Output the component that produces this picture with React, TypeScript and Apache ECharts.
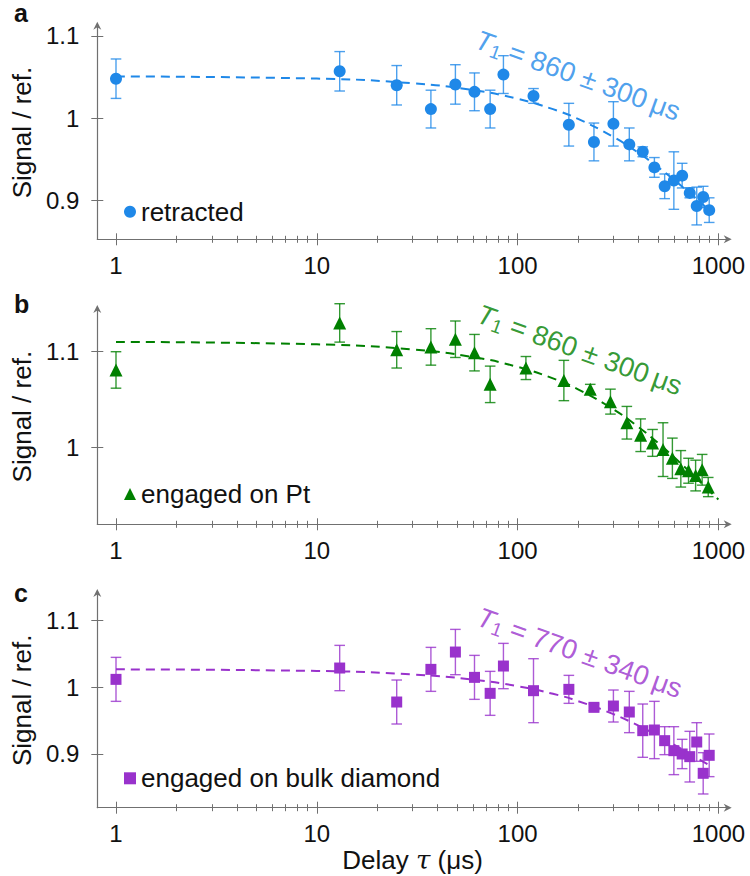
import React, { useEffect, useRef } from "react";
import * as echarts from "echarts";

// ---------------- data ----------------
const tauA = [1, 13, 25, 37, 49, 61, 73, 85, 120, 180, 240, 300, 360, 420, 480, 540, 600, 660, 720, 780, 840, 900];
const signalA = [1.048, 1.057, 1.040, 1.011, 1.041, 1.032, 1.011, 1.053, 1.027, 0.992, 0.971, 0.993, 0.968, 0.959, 0.940, 0.917, 0.924, 0.930, 0.909, 0.893, 0.904, 0.888];
const errorA = [0.024, 0.024, 0.024, 0.023, 0.024, 0.023, 0.023, 0.023, 0.009, 0.026, 0.023, 0.027, 0.020, 0.006, 0.012, 0.015, 0.035, 0.015, 0.006, 0.023, 0.013, 0.015];

const tauB = [1, 13, 25, 37, 49, 61, 73, 110, 170, 230, 290, 350, 410, 470, 530, 590, 650, 710, 770, 830, 890];
const signalB = [1.081, 1.130, 1.102, 1.105, 1.113, 1.099, 1.066, 1.083, 1.070, 1.061, 1.048, 1.026, 1.013, 1.005, 0.998, 0.989, 0.978, 0.976, 0.971, 0.977, 0.959];
const errorB = [0.019, 0.020, 0.019, 0.019, 0.019, 0.019, 0.019, 0.012, 0.021, 0.005, 0.013, 0.017, 0.017, 0.014, 0.028, 0.021, 0.019, 0.013, 0.016, 0.016, 0.010];

const tauC = [1, 13, 25, 37, 49, 61, 73, 85, 120, 180, 240, 300, 360, 420, 480, 540, 600, 660, 720, 780, 840, 900];
const signalC = [1.012, 1.029, 0.978, 1.027, 1.053, 1.015, 0.991, 1.032, 0.995, 0.997, 0.970, 0.972, 0.963, 0.935, 0.936, 0.920, 0.905, 0.900, 0.896, 0.918, 0.871, 0.898];
const errorC = [0.033, 0.034, 0.033, 0.033, 0.034, 0.033, 0.033, 0.034, 0.048, 0.021, 0.005, 0.024, 0.031, 0.040, 0.043, 0.021, 0.036, 0.022, 0.038, 0.029, 0.031, 0.032];

// dashed fit curves
const fitTauA = [1, 10, 30, 60, 100, 150, 200, 300, 400, 500, 600, 700, 800, 930];
const fitA = [1.0507, 1.0481, 1.0424, 1.0341, 1.0235, 1.0109, 0.999, 0.9771, 0.9577, 0.9404, 0.925, 0.9113, 0.8991, 0.8853];
const fitTauB = [1, 10, 30, 60, 100, 150, 200, 300, 400, 500, 600, 700, 800, 900, 1000];
const fitB = [1.1102, 1.1077, 1.1023, 1.0944, 1.0842, 1.0722, 1.0608, 1.04, 1.0215, 1.005, 0.9903, 0.9772, 0.9656, 0.9552, 0.946];
const fitTauC = [1, 10, 30, 60, 100, 150, 200, 300, 400, 500, 600, 700, 800, 930];
const fitC = [1.027, 1.0246, 1.0193, 1.0116, 1.0018, 0.9903, 0.9794, 0.9598, 0.9425, 0.9274, 0.9141, 0.9024, 0.8921, 0.8806];

const xMajorTicks = [1, 10, 100, 1000];
const xMinorTicks = [2, 3, 4, 5, 6, 7, 8, 9, 20, 30, 40, 50, 60, 70, 80, 90, 200, 300, 400, 500, 600, 700, 800, 900];
const yTicksA = [0.9, 1, 1.1];
const yTicksB = [1, 1.1];
const yTicksC = [0.9, 1, 1.1];

const seriesNames = ["retracted", "engaged on Pt", "engaged on bulk diamond"];
const panelLetters = ["a", "b", "c"];
const t1Values = ["860", "860", "770"];
const t1Errors = ["300", "300", "340"];
const t1Anchor = [[200, 1.052], [204, 1.102], [204, 1.052]];
const yRanges = [[0.8525, 1.1125], [0.9202, 1.1445], [0.8194, 1.1416]];

// ---------------- layout / style ----------------
const FONT = '"Liberation Sans", Arial, Helvetica, sans-serif';
const TEXT = "#111111";
const AXIS = "#707070";
const ARROW = "path://M5,0 L10,10 L5,7 L0,10 Z";
const X_LEFT = 97.3;
const X_RIGHT = 727.7;
const PX_AT_1 = 116;
const PX_PER_DECADE = 200.8;
const X_MIN = (X_LEFT - PX_AT_1) / PX_PER_DECADE;
const X_MAX = (X_RIGHT - PX_AT_1) / PX_PER_DECADE;
const GRID_BOX = [
  { top: 25.7, bottom: 239.3 },
  { top: 309, bottom: 524.3 },
  { top: 593, bottom: 807.7 },
];
const LEGEND_TOP = [198.7, 481, 765.3];
const TITLE_TOP = [0, 291, 580];

const panels = [
  { tau: tauA, sig: signalA, err: errorA, fitTau: fitTauA, fit: fitA, yTicks: yTicksA, color: "#1f88e8", symbol: "circle", size: 12, icon: "circle" },
  { tau: tauB, sig: signalB, err: errorB, fitTau: fitTauB, fit: fitB, yTicks: yTicksB, color: "#008000", symbol: "triangle", size: 13, icon: "triangle" },
  { tau: tauC, sig: signalC, err: errorC, fitTau: fitTauC, fit: fitC, yTicks: yTicksC, color: "#9932cc", symbol: "rect", size: 11, icon: "rect" },
];

function buildOption() {
  const option: any = {
    animation: false,
    backgroundColor: "#ffffff",
    grid: [],
    xAxis: [],
    yAxis: [],
    series: [],
    legend: [],
    title: [],
  };
  const majors = xMajorTicks.map((t) => Math.log10(t));
  const minors = xMinorTicks.map((t) => Math.log10(t));

  panels.forEach((p, i) => {
    const g = GRID_BOX[i];
    option.grid.push({
      left: X_LEFT,
      top: g.top,
      width: X_RIGHT - X_LEFT,
      height: g.bottom - g.top,
      containLabel: false,
      outerBoundsMode: "none",
    });

    const xBase = {
      type: "value",
      gridIndex: i,
      position: "bottom",
      offset: 0,
      min: X_MIN,
      max: X_MAX,
      splitLine: { show: false },
      axisLabel: { show: false },
      axisLine: { show: false, onZero: false },
    };
    const tickStyle = { color: AXIS, width: 1 };
    option.xAxis.push({
      ...xBase,
      axisLine: {
        show: true,
        onZero: false,
        symbol: ["none", ARROW],
        symbolSize: [8, 9],
        lineStyle: { color: AXIS, width: 1.2 },
      },
      axisTick: { show: true, inside: false, length: 6, customValues: majors, lineStyle: tickStyle },
      axisLabel: {
        show: true,
        customValues: majors,
        formatter: (v: number) => String(Math.round(Math.pow(10, v))),
        fontSize: 24,
        color: TEXT,
        fontFamily: FONT,
        margin: 14,
      },
      name: i === 2 ? "{n|Delay }{t|τ}{n| (μs)}" : "",
      nameLocation: "middle",
      nameGap: 37,
      nameTextStyle: {
        rich: {
          n: { fontSize: 26, color: TEXT, fontFamily: FONT },
          t: { fontSize: 26, color: TEXT, fontFamily: '"DejaVu Serif", serif', fontStyle: "italic" },
        },
      },
    });
    option.xAxis.push({ ...xBase, axisTick: { show: true, inside: true, length: 6, customValues: majors, lineStyle: tickStyle } });
    option.xAxis.push({ ...xBase, axisTick: { show: true, inside: false, length: 3.5, customValues: minors, lineStyle: tickStyle } });
    option.xAxis.push({ ...xBase, axisTick: { show: true, inside: true, length: 3.5, customValues: minors, lineStyle: tickStyle } });

    const yBase = {
      type: "value",
      gridIndex: i,
      position: "left",
      offset: 0,
      min: yRanges[i][0],
      max: yRanges[i][1],
      splitLine: { show: false },
    };
    option.yAxis.push({
      ...yBase,
      axisLine: {
        show: true,
        onZero: false,
        symbol: ["none", ARROW],
        symbolSize: [8, 9],
        lineStyle: { color: AXIS, width: 1.2 },
      },
      axisTick: { show: true, inside: false, length: 6, customValues: p.yTicks, lineStyle: tickStyle },
      axisLabel: {
        show: true,
        customValues: p.yTicks,
        formatter: (v: number) => String(v),
        fontSize: 24,
        color: TEXT,
        fontFamily: FONT,
        margin: 18,
      },
      name: "Signal / ref.",
      nameLocation: "middle",
      nameGap: 62,
      nameTextStyle: { fontSize: 26, color: TEXT, fontFamily: FONT },
    });
    option.yAxis.push({
      ...yBase,
      axisLine: { show: false, onZero: false },
      axisTick: { show: true, inside: true, length: 6, customValues: p.yTicks, lineStyle: tickStyle },
      axisLabel: { show: false },
    });

    const xi = i * 4;
    const yi = i * 2;
    option.series.push({
      type: "line",
      name: "fit-" + i,
      xAxisIndex: xi,
      yAxisIndex: yi,
      data: p.fitTau.map((t, k) => [Math.log10(t), p.fit[k]]),
      showSymbol: false,
      symbol: "none",
      smooth: true,
      silent: true,
      lineStyle: { color: p.color, width: 2, type: [9, 6] },
      z: 2,
    });
    const color = p.color;
    option.series.push({
      type: "custom",
      name: "err-" + i,
      xAxisIndex: xi,
      yAxisIndex: yi,
      data: p.tau.map((t, k) => [Math.log10(t), p.sig[k], p.err[k]]),
      encode: { x: 0, y: 1 },
      silent: true,
      z: 3,
      renderItem: (params: any, api: any) => {
        const x = api.value(0);
        const y = api.value(1);
        const e = api.value(2);
        const hi = api.coord([x, y + e]);
        const lo = api.coord([x, y - e]);
        const w = 5.3;
        const style = { stroke: color, lineWidth: 1.4, opacity: 0.8 };
        return {
          type: "group",
          children: [
            { type: "line", shape: { x1: hi[0], y1: hi[1], x2: lo[0], y2: lo[1] }, style },
            { type: "line", shape: { x1: hi[0] - w, y1: hi[1], x2: hi[0] + w, y2: hi[1] }, style },
            { type: "line", shape: { x1: lo[0] - w, y1: lo[1], x2: lo[0] + w, y2: lo[1] }, style },
          ],
        };
      },
    });
    option.series.push({
      type: "scatter",
      name: seriesNames[i],
      xAxisIndex: xi,
      yAxisIndex: yi,
      data: p.tau.map((t, k) => [Math.log10(t), p.sig[k]]),
      symbol: p.symbol,
      symbolSize: p.size,
      itemStyle: { color: p.color, opacity: 1 },
      z: 4,
    });
    option.series.push({
      type: "scatter",
      name: "t1-" + i,
      xAxisIndex: xi,
      yAxisIndex: yi,
      data: [[Math.log10(t1Anchor[i][0]), t1Anchor[i][1]]],
      symbol: "circle",
      symbolSize: 1,
      silent: true,
      itemStyle: { color: "rgba(0,0,0,0)" },
      z: 5,
      label: {
        show: true,
        position: "inside",
        rotate: -20,
        formatter: "{it|T}{sub|1}{n| = " + t1Values[i] + " ± " + t1Errors[i] + "\u2009μs}",
        rich: {
          it: { fontSize: 27.5, fontStyle: "italic", color: p.color, fontFamily: FONT, lineHeight: 32 },
          sub: { fontSize: 19, color: p.color, fontFamily: FONT, lineHeight: 19, verticalAlign: "bottom" },
          n: { fontSize: 27.5, color: p.color, fontFamily: FONT, lineHeight: 32 },
        },
      },
    });

    option.legend.push({
      data: [{ name: seriesNames[i], icon: p.icon }],
      left: 124,
      top: LEGEND_TOP[i],
      orient: "horizontal",
      itemWidth: 12,
      itemHeight: 12,
      itemGap: 0,
      padding: 0,
      selectedMode: false,
      textStyle: { fontSize: 26, color: TEXT, fontFamily: FONT, lineHeight: 26 },
    });

    option.title.push({
      text: panelLetters[i],
      left: 14,
      top: TITLE_TOP[i],
      padding: 0,
      textStyle: { fontSize: 25, fontWeight: "bold", color: TEXT, fontFamily: FONT },
    });
  });
  return option;
}

export default function App() {
  const ref = useRef<HTMLDivElement>(null);
  useEffect(() => {
    const chart = echarts.init(ref.current as HTMLDivElement, null, { renderer: "svg", width: 750, height: 876 });
    chart.setOption(buildOption());
    return () => chart.dispose();
  }, []);
  return <div ref={ref} style={{ position: "absolute", left: 0, top: 0, width: 750, height: 876 }} />;
}
